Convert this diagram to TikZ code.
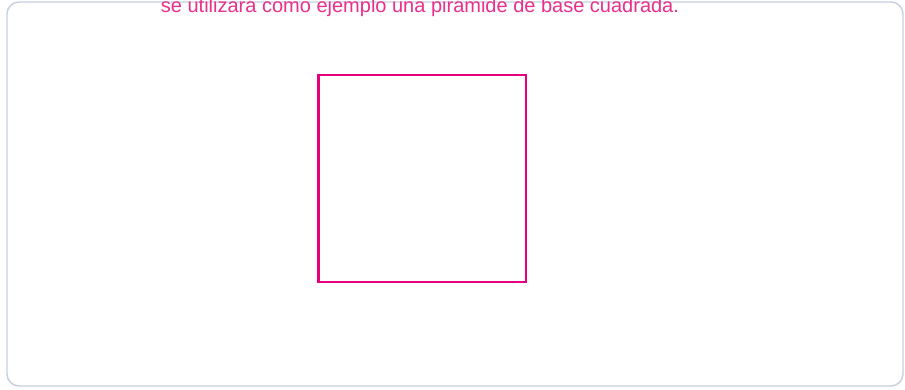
\documentclass[tikz,border=0pt]{standalone}
\usepackage{fontspec}
\setmainfont{Liberation Sans}
\definecolor{framec}{HTML}{C5D0DE}
\definecolor{magc}{HTML}{E6007E}
\definecolor{txtc}{HTML}{E8308C}
\begin{document}
\begin{tikzpicture}[x=1pt,y=-1pt,
  frame/.style={draw=framec,line width=1.4pt,rounded corners=12pt},
  sq/.style={draw=magc,line width=2.7pt},
  caption/.style={text=txtc,font=\fontsize{20}{22}\selectfont,inner sep=0pt,anchor=base}]
\useasboundingbox (0,0) rectangle (905,389);
\clip (0,0) rectangle (905,389);
\fill[white] (0,0) rectangle (905,389);
\draw[frame] (7,2) rectangle (903,386);
\node[caption] (cap) at (420,12.5) {se utilizará como ejemplo una pirámide de base cuadrada.};
\draw[sq] (318.5,75) rectangle (526,282);
\end{tikzpicture}
\end{document}
